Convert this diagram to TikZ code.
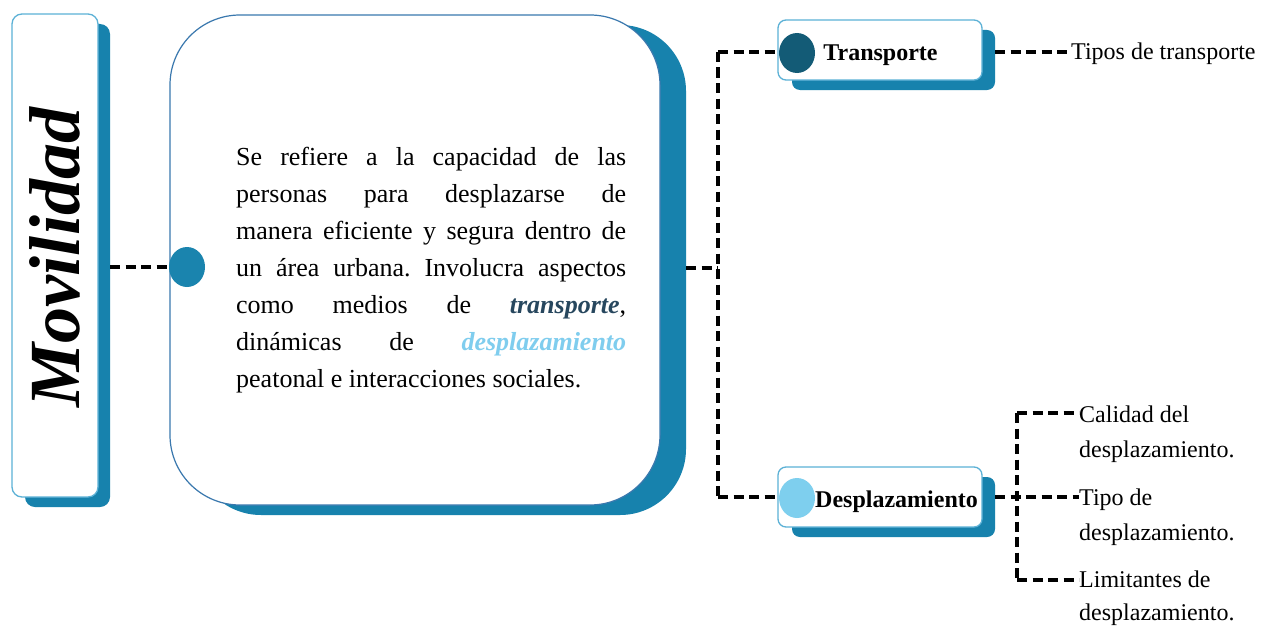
\documentclass[tikz,border=0pt]{standalone}
\usepackage{fontspec}
\setmainfont{Liberation Serif}
\usetikzlibrary{shapes.geometric}
\definecolor{shadowblue}{HTML}{1782AD}
\definecolor{lightborder}{HTML}{5CB1D6}
\definecolor{mainborder}{HTML}{3A78AE}
\definecolor{dotmain}{HTML}{1A84AE}
\definecolor{dotdark}{HTML}{135B76}
\definecolor{dotlight}{HTML}{7ECFEE}
\definecolor{wordtrans}{HTML}{27475E}
\definecolor{worddesp}{HTML}{7FCDEE}
\begin{document}
\frenchspacing
\begin{tikzpicture}[x=1pt,y=-1pt,
  shadowbox/.style={fill=shadowblue, draw=none, inner sep=0pt, outer sep=0pt},
  whitebox/.style={fill=white, draw=lightborder, line width=1.3pt, inner sep=0pt, outer sep=0pt},
  dashline/.style={line width=3.6pt, dash pattern=on 10pt off 5.5pt, black},
  dotnode/.style={ellipse, minimum width=36pt, minimum height=40pt, inner sep=0pt, draw=none},
  labeltext/.style={font=\fontsize{24}{35}\selectfont, inner sep=0pt, align=left, anchor=north west},
  boldlabel/.style={font=\fontsize{24}{28}\selectfont\bfseries, inner sep=0pt}
]
\useasboundingbox (0,0) rectangle (1263,626);
\fill[white] (0,0) rectangle (1263,626);

% Movilidad box
\node[shadowbox, rounded corners=10pt, minimum width=85pt, minimum height=483pt] (movS) at (67.5,265.5) {};
\node[whitebox, rounded corners=10pt, minimum width=86pt, minimum height=483pt] (mov) at (55,255.5) {};
\node[rotate=90, inner sep=0pt, font=\fontsize{72}{72}\selectfont\bfseries\itshape] (movtxt) at (55,258) {Movilidad};

% Main box
\node[shadowbox, rounded corners=66pt, minimum width=491pt, minimum height=490pt] (mainS) at (440.5,270) {};
\node[whitebox, draw=mainborder, line width=1.2pt, rounded corners=70pt, minimum width=490pt, minimum height=490pt] (main) at (415,260) {};
\node[anchor=north west, inner sep=0pt, text width=390pt, align=justify,
      font=\fontsize{26}{37}\selectfont] (para) at (236,147)
 {Se refiere a la capacidad de las\linebreak
  personas para desplazarse de\linebreak
  manera eficiente y segura dentro de\linebreak
  un área urbana. Involucra aspectos\linebreak
  como medios de \textcolor{wordtrans}{\textbf{\textit{transporte}}},\linebreak
  dinámicas de \textcolor{worddesp}{\textbf{\textit{desplazamiento}}}\linebreak
  peatonal e interacciones sociales.};

% Transporte box
\node[shadowbox, rounded corners=8pt, minimum width=203pt, minimum height=60pt] (transS) at (893.5,60) {};
\node[whitebox, rounded corners=8pt, minimum width=204pt, minimum height=60pt] (trans) at (880,50) {};
\node[boldlabel] (transtxt) at (880.5,55) {Transporte};

% Desplazamiento box
\node[shadowbox, rounded corners=8pt, minimum width=203pt, minimum height=60pt] (despS) at (893.5,507) {};
\node[whitebox, rounded corners=8pt, minimum width=204pt, minimum height=60pt] (desp) at (880,497) {};
\node[boldlabel] (desptxt) at (896.5,502) {Desplazamiento};

% right texts
\node[labeltext] (tipos) at (1071,43) {Tipos de transporte};
\node[labeltext] (cal) at (1079,406) {Calidad del\\desplazamiento.};
\node[labeltext] (tipo) at (1079,489) {Tipo de\\desplazamiento.};
\node[labeltext, font=\fontsize{24}{33}\selectfont] (lim) at (1079,571) {Limitantes de\\desplazamiento.};

% coordinates
\coordinate (mj) at (718,268);
\coordinate (mt) at (718,52);
\coordinate (md) at (718,497);
\coordinate (dj) at (1017,497);
\coordinate (dc) at (1017,413);
\coordinate (dl) at (1017,580);

% connectors
\draw[dashline] (movS.east |- 0,267) -- (187,267);
\draw[dashline] (mainS.east |- mj) -- (mj);
\draw[dashline] (mt) -- (md);
\draw[dashline] (mt) -- (797,52);
\draw[dashline] (md) -- (797,497);
\draw[dashline] (transS.east |- 0,52) -- (tipos.west |- 0,52);
\draw[dashline] (despS.east |- dj) -- (tipo.west |- dj);
\draw[dashline] (dc) -- (dl);
\draw[dashline] (dc) -- (cal.west |- dc);
\draw[dashline] (dl) -- (lim.west |- dl);

% dots
\node[dotnode, fill=dotmain] (dot1) at (187,267) {};
\node[dotnode, fill=dotdark] (dot2) at (797,53) {};
\node[dotnode, fill=dotlight] (dot3) at (797,498) {};
\end{tikzpicture}
\end{document}
